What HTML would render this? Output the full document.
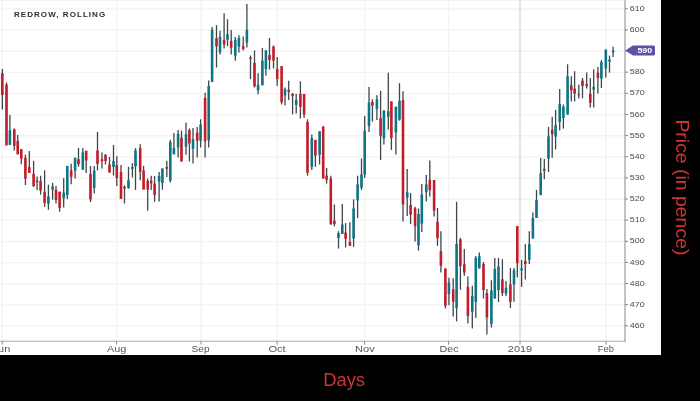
<!DOCTYPE html><html><head><meta charset="utf-8"><style>html,body{margin:0;padding:0;background:#000;width:700px;height:401px;overflow:hidden}svg{display:block;will-change:transform}text{font-family:"Liberation Sans",sans-serif}</style></head><body>
<svg width="700" height="401" viewBox="0 0 700 401">
<rect x="0" y="0" width="700" height="401" fill="#000"/>
<rect x="0" y="0" width="661" height="355" fill="#fff"/>
<line x1="0" y1="0.5" x2="625" y2="0.5" stroke="#f3f3f3" stroke-width="1"/>
<line x1="0" y1="326.00" x2="625" y2="326.00" stroke="#f3f3f3" stroke-width="1.4"/>
<line x1="0" y1="304.86" x2="625" y2="304.86" stroke="#f3f3f3" stroke-width="1.4"/>
<line x1="0" y1="283.73" x2="625" y2="283.73" stroke="#f3f3f3" stroke-width="1.4"/>
<line x1="0" y1="262.60" x2="625" y2="262.60" stroke="#f3f3f3" stroke-width="1.4"/>
<line x1="0" y1="241.46" x2="625" y2="241.46" stroke="#f3f3f3" stroke-width="1.4"/>
<line x1="0" y1="220.33" x2="625" y2="220.33" stroke="#f3f3f3" stroke-width="1.4"/>
<line x1="0" y1="199.20" x2="625" y2="199.20" stroke="#f3f3f3" stroke-width="1.4"/>
<line x1="0" y1="178.06" x2="625" y2="178.06" stroke="#f3f3f3" stroke-width="1.4"/>
<line x1="0" y1="156.93" x2="625" y2="156.93" stroke="#f3f3f3" stroke-width="1.4"/>
<line x1="0" y1="135.80" x2="625" y2="135.80" stroke="#f3f3f3" stroke-width="1.4"/>
<line x1="0" y1="114.67" x2="625" y2="114.67" stroke="#f3f3f3" stroke-width="1.4"/>
<line x1="0" y1="93.53" x2="625" y2="93.53" stroke="#f3f3f3" stroke-width="1.4"/>
<line x1="0" y1="72.40" x2="625" y2="72.40" stroke="#f3f3f3" stroke-width="1.4"/>
<line x1="0" y1="51.27" x2="625" y2="51.27" stroke="#f3f3f3" stroke-width="1.4"/>
<line x1="0" y1="30.13" x2="625" y2="30.13" stroke="#f3f3f3" stroke-width="1.4"/>
<line x1="0" y1="9.00" x2="625" y2="9.00" stroke="#f3f3f3" stroke-width="1.4"/>
<line x1="2.2" y1="0" x2="2.2" y2="341" stroke="#f3f3f3" stroke-width="1.4"/>
<line x1="116.6" y1="0" x2="116.6" y2="341" stroke="#f3f3f3" stroke-width="1.4"/>
<line x1="201.0" y1="0" x2="201.0" y2="341" stroke="#f3f3f3" stroke-width="1.4"/>
<line x1="277.1" y1="0" x2="277.1" y2="341" stroke="#f3f3f3" stroke-width="1.4"/>
<line x1="364.6" y1="0" x2="364.6" y2="341" stroke="#f3f3f3" stroke-width="1.4"/>
<line x1="448.6" y1="0" x2="448.6" y2="341" stroke="#f3f3f3" stroke-width="1.4"/>
<line x1="520.0" y1="0" x2="520.0" y2="341" stroke="#e0e0e0" stroke-width="1.6"/>
<line x1="606.0" y1="0" x2="606.0" y2="341" stroke="#f3f3f3" stroke-width="1.4"/>
<line x1="2.35" y1="68.9" x2="2.35" y2="109.5" stroke="#3f4649" stroke-width="1.3"/>
<rect x="1.05" y="73.1" width="2.6" height="21.90" fill="#c21d2a"/>
<line x1="6.50" y1="82.4" x2="6.50" y2="145.4" stroke="#3f4649" stroke-width="1.3"/>
<rect x="5.20" y="84.6" width="2.6" height="60.80" fill="#c21d2a"/>
<line x1="9.90" y1="114.9" x2="9.90" y2="144.8" stroke="#3f4649" stroke-width="1.3"/>
<rect x="8.60" y="130.2" width="2.6" height="14.60" fill="#0d7585"/>
<line x1="14.30" y1="128.5" x2="14.30" y2="150.4" stroke="#3f4649" stroke-width="1.3"/>
<rect x="13.00" y="129.4" width="2.6" height="16.40" fill="#c21d2a"/>
<line x1="17.70" y1="135.0" x2="17.70" y2="154.3" stroke="#3f4649" stroke-width="1.3"/>
<rect x="16.40" y="140.9" width="2.6" height="13.40" fill="#c21d2a"/>
<line x1="21.30" y1="148.9" x2="21.30" y2="164.3" stroke="#3f4649" stroke-width="1.3"/>
<rect x="20.00" y="149.3" width="2.6" height="9.30" fill="#c21d2a"/>
<line x1="25.40" y1="154.6" x2="25.40" y2="185.0" stroke="#3f4649" stroke-width="1.3"/>
<rect x="24.10" y="157.9" width="2.6" height="20.70" fill="#c21d2a"/>
<line x1="29.30" y1="151.1" x2="29.30" y2="173.0" stroke="#3f4649" stroke-width="1.3"/>
<rect x="28.00" y="167.1" width="2.6" height="5.80" fill="#c21d2a"/>
<line x1="33.60" y1="160.9" x2="33.60" y2="186.9" stroke="#3f4649" stroke-width="1.3"/>
<rect x="32.30" y="173.9" width="2.6" height="12.20" fill="#c21d2a"/>
<line x1="37.10" y1="176.4" x2="37.10" y2="190.0" stroke="#3f4649" stroke-width="1.3"/>
<rect x="35.80" y="180.4" width="2.6" height="1.70" fill="#c21d2a"/>
<line x1="40.60" y1="175.7" x2="40.60" y2="194.7" stroke="#3f4649" stroke-width="1.3"/>
<rect x="39.30" y="181.1" width="2.6" height="9.60" fill="#c21d2a"/>
<line x1="44.60" y1="170.3" x2="44.60" y2="206.9" stroke="#3f4649" stroke-width="1.3"/>
<rect x="43.30" y="191.7" width="2.6" height="11.20" fill="#c21d2a"/>
<line x1="48.40" y1="184.6" x2="48.40" y2="209.7" stroke="#3f4649" stroke-width="1.3"/>
<rect x="47.10" y="196.4" width="2.6" height="7.20" fill="#0d7585"/>
<line x1="52.60" y1="182.9" x2="52.60" y2="199.7" stroke="#3f4649" stroke-width="1.3"/>
<rect x="51.30" y="186.4" width="2.6" height="3.30" fill="#0d7585"/>
<line x1="56.00" y1="186.1" x2="56.00" y2="203.6" stroke="#3f4649" stroke-width="1.3"/>
<rect x="54.70" y="189.7" width="2.6" height="10.30" fill="#c21d2a"/>
<line x1="59.60" y1="191.7" x2="59.60" y2="211.7" stroke="#3f4649" stroke-width="1.3"/>
<rect x="58.30" y="191.7" width="2.6" height="16.20" fill="#c21d2a"/>
<line x1="63.70" y1="178.3" x2="63.70" y2="207.6" stroke="#3f4649" stroke-width="1.3"/>
<rect x="62.40" y="192.6" width="2.6" height="5.70" fill="#0d7585"/>
<line x1="67.30" y1="165.9" x2="67.30" y2="198.9" stroke="#3f4649" stroke-width="1.3"/>
<rect x="66.00" y="165.9" width="2.6" height="29.10" fill="#0d7585"/>
<line x1="71.20" y1="163.7" x2="71.20" y2="184.3" stroke="#3f4649" stroke-width="1.3"/>
<rect x="69.90" y="170.3" width="2.6" height="6.60" fill="#c21d2a"/>
<line x1="75.10" y1="157.8" x2="75.10" y2="178.6" stroke="#3f4649" stroke-width="1.3"/>
<rect x="73.80" y="157.8" width="2.6" height="12.90" fill="#0d7585"/>
<line x1="78.50" y1="148.0" x2="78.50" y2="166.7" stroke="#3f4649" stroke-width="1.3"/>
<rect x="77.20" y="159.2" width="2.6" height="5.00" fill="#c21d2a"/>
<line x1="82.80" y1="148.0" x2="82.80" y2="169.7" stroke="#3f4649" stroke-width="1.3"/>
<rect x="81.50" y="152.5" width="2.6" height="17.20" fill="#0d7585"/>
<line x1="86.20" y1="150.8" x2="86.20" y2="173.0" stroke="#3f4649" stroke-width="1.3"/>
<rect x="84.90" y="150.8" width="2.6" height="9.70" fill="#c21d2a"/>
<line x1="90.50" y1="166.0" x2="90.50" y2="202.1" stroke="#3f4649" stroke-width="1.3"/>
<rect x="89.20" y="174.0" width="2.6" height="25.30" fill="#c21d2a"/>
<line x1="94.20" y1="166.0" x2="94.20" y2="193.6" stroke="#3f4649" stroke-width="1.3"/>
<rect x="92.90" y="170.5" width="2.6" height="17.40" fill="#0d7585"/>
<line x1="97.50" y1="132.0" x2="97.50" y2="170.5" stroke="#3f4649" stroke-width="1.3"/>
<rect x="96.20" y="150.5" width="2.6" height="13.50" fill="#c21d2a"/>
<line x1="102.00" y1="152.5" x2="102.00" y2="168.5" stroke="#3f4649" stroke-width="1.3"/>
<rect x="100.70" y="159.2" width="2.6" height="2.00" fill="#c21d2a"/>
<line x1="105.50" y1="154.0" x2="105.50" y2="164.5" stroke="#3f4649" stroke-width="1.3"/>
<rect x="104.20" y="155.0" width="2.6" height="6.00" fill="#c21d2a"/>
<line x1="109.50" y1="157.0" x2="109.50" y2="172.5" stroke="#3f4649" stroke-width="1.3"/>
<rect x="108.20" y="164.5" width="2.6" height="8.00" fill="#c21d2a"/>
<line x1="113.50" y1="145.0" x2="113.50" y2="175.5" stroke="#3f4649" stroke-width="1.3"/>
<rect x="112.20" y="161.0" width="2.6" height="6.00" fill="#0d7585"/>
<line x1="116.80" y1="156.2" x2="116.80" y2="185.9" stroke="#3f4649" stroke-width="1.3"/>
<rect x="115.50" y="165.1" width="2.6" height="12.90" fill="#c21d2a"/>
<line x1="121.00" y1="165.1" x2="121.00" y2="199.0" stroke="#3f4649" stroke-width="1.3"/>
<rect x="119.70" y="171.9" width="2.6" height="27.10" fill="#c21d2a"/>
<line x1="124.50" y1="185.3" x2="124.50" y2="203.5" stroke="#3f4649" stroke-width="1.3"/>
<rect x="123.20" y="186.8" width="2.6" height="1.70" fill="#c21d2a"/>
<line x1="128.50" y1="166.8" x2="128.50" y2="188.7" stroke="#3f4649" stroke-width="1.3"/>
<rect x="127.20" y="180.3" width="2.6" height="7.80" fill="#0d7585"/>
<line x1="132.40" y1="163.2" x2="132.40" y2="177.5" stroke="#3f4649" stroke-width="1.3"/>
<rect x="131.10" y="167.0" width="2.6" height="1.80" fill="#0d7585"/>
<line x1="135.50" y1="148.1" x2="135.50" y2="190.0" stroke="#3f4649" stroke-width="1.3"/>
<rect x="134.20" y="150.4" width="2.6" height="15.90" fill="#0d7585"/>
<line x1="140.20" y1="144.2" x2="140.20" y2="180.3" stroke="#3f4649" stroke-width="1.3"/>
<rect x="138.90" y="148.1" width="2.6" height="23.80" fill="#c21d2a"/>
<line x1="143.60" y1="165.9" x2="143.60" y2="189.5" stroke="#3f4649" stroke-width="1.3"/>
<rect x="142.30" y="170.5" width="2.6" height="19.00" fill="#c21d2a"/>
<line x1="147.70" y1="178.6" x2="147.70" y2="210.8" stroke="#3f4649" stroke-width="1.3"/>
<rect x="146.40" y="180.8" width="2.6" height="8.70" fill="#c21d2a"/>
<line x1="151.20" y1="175.8" x2="151.20" y2="190.0" stroke="#3f4649" stroke-width="1.3"/>
<rect x="149.90" y="180.5" width="2.6" height="2.90" fill="#c21d2a"/>
<line x1="154.60" y1="176.0" x2="154.60" y2="201.8" stroke="#3f4649" stroke-width="1.3"/>
<rect x="153.30" y="183.6" width="2.6" height="11.30" fill="#c21d2a"/>
<line x1="159.10" y1="171.9" x2="159.10" y2="201.6" stroke="#3f4649" stroke-width="1.3"/>
<rect x="157.80" y="175.8" width="2.6" height="5.80" fill="#0d7585"/>
<line x1="162.40" y1="168.5" x2="162.40" y2="189.7" stroke="#3f4649" stroke-width="1.3"/>
<rect x="161.10" y="168.5" width="2.6" height="14.60" fill="#0d7585"/>
<line x1="166.80" y1="160.7" x2="166.80" y2="176.9" stroke="#3f4649" stroke-width="1.3"/>
<rect x="165.50" y="167.0" width="2.6" height="1.80" fill="#c21d2a"/>
<line x1="170.30" y1="139.7" x2="170.30" y2="182.5" stroke="#3f4649" stroke-width="1.3"/>
<rect x="169.00" y="142.0" width="2.6" height="38.80" fill="#0d7585"/>
<line x1="173.90" y1="133.0" x2="173.90" y2="154.3" stroke="#3f4649" stroke-width="1.3"/>
<rect x="172.60" y="148.0" width="2.6" height="6.30" fill="#0d7585"/>
<line x1="178.10" y1="130.1" x2="178.10" y2="157.6" stroke="#3f4649" stroke-width="1.3"/>
<rect x="176.80" y="134.0" width="2.6" height="13.50" fill="#0d7585"/>
<line x1="181.50" y1="130.7" x2="181.50" y2="161.5" stroke="#3f4649" stroke-width="1.3"/>
<rect x="180.20" y="137.7" width="2.6" height="23.80" fill="#c21d2a"/>
<line x1="186.00" y1="122.5" x2="186.00" y2="154.8" stroke="#3f4649" stroke-width="1.3"/>
<rect x="184.70" y="134.3" width="2.6" height="12.40" fill="#0d7585"/>
<line x1="189.40" y1="128.4" x2="189.40" y2="161.5" stroke="#3f4649" stroke-width="1.3"/>
<rect x="188.10" y="130.1" width="2.6" height="13.40" fill="#c21d2a"/>
<line x1="193.00" y1="128.1" x2="193.00" y2="163.5" stroke="#3f4649" stroke-width="1.3"/>
<rect x="191.70" y="139.1" width="2.6" height="9.80" fill="#0d7585"/>
<line x1="197.20" y1="127.0" x2="197.20" y2="157.6" stroke="#3f4649" stroke-width="1.3"/>
<rect x="195.90" y="132.6" width="2.6" height="8.10" fill="#c21d2a"/>
<line x1="200.60" y1="119.3" x2="200.60" y2="147.5" stroke="#3f4649" stroke-width="1.3"/>
<rect x="199.30" y="124.5" width="2.6" height="16.20" fill="#0d7585"/>
<line x1="205.10" y1="92.7" x2="205.10" y2="157.6" stroke="#3f4649" stroke-width="1.3"/>
<rect x="203.80" y="98.0" width="2.6" height="43.30" fill="#c21d2a"/>
<line x1="208.70" y1="80.6" x2="208.70" y2="147.5" stroke="#3f4649" stroke-width="1.3"/>
<rect x="207.40" y="86.0" width="2.6" height="54.40" fill="#0d7585"/>
<line x1="212.10" y1="27.1" x2="212.10" y2="82.0" stroke="#3f4649" stroke-width="1.3"/>
<rect x="210.80" y="29.7" width="2.6" height="52.30" fill="#0d7585"/>
<line x1="216.50" y1="25.2" x2="216.50" y2="67.5" stroke="#3f4649" stroke-width="1.3"/>
<rect x="215.20" y="38.1" width="2.6" height="8.10" fill="#c21d2a"/>
<line x1="220.00" y1="30.8" x2="220.00" y2="54.6" stroke="#3f4649" stroke-width="1.3"/>
<rect x="218.70" y="36.8" width="2.6" height="15.50" fill="#0d7585"/>
<line x1="224.10" y1="13.2" x2="224.10" y2="48.4" stroke="#3f4649" stroke-width="1.3"/>
<rect x="222.80" y="39.8" width="2.6" height="4.70" fill="#c21d2a"/>
<line x1="227.50" y1="19.3" x2="227.50" y2="46.2" stroke="#3f4649" stroke-width="1.3"/>
<rect x="226.20" y="34.2" width="2.6" height="5.60" fill="#0d7585"/>
<line x1="231.20" y1="30.0" x2="231.20" y2="54.6" stroke="#3f4649" stroke-width="1.3"/>
<rect x="229.90" y="40.9" width="2.6" height="6.90" fill="#c21d2a"/>
<line x1="235.30" y1="37.0" x2="235.30" y2="60.7" stroke="#3f4649" stroke-width="1.3"/>
<rect x="234.00" y="39.8" width="2.6" height="15.90" fill="#0d7585"/>
<line x1="238.90" y1="35.3" x2="238.90" y2="52.6" stroke="#3f4649" stroke-width="1.3"/>
<rect x="237.60" y="37.9" width="2.6" height="8.80" fill="#0d7585"/>
<line x1="243.20" y1="36.4" x2="243.20" y2="50.6" stroke="#3f4649" stroke-width="1.3"/>
<rect x="241.90" y="46.2" width="2.6" height="2.80" fill="#c21d2a"/>
<line x1="246.90" y1="3.9" x2="246.90" y2="47.6" stroke="#3f4649" stroke-width="1.3"/>
<rect x="245.60" y="29.7" width="2.6" height="12.90" fill="#0d7585"/>
<line x1="250.50" y1="55.5" x2="250.50" y2="79.1" stroke="#3f4649" stroke-width="1.3"/>
<rect x="249.20" y="57.4" width="2.6" height="1.40" fill="#c21d2a"/>
<line x1="254.50" y1="50.5" x2="254.50" y2="87.5" stroke="#3f4649" stroke-width="1.3"/>
<rect x="253.20" y="62.8" width="2.6" height="23.60" fill="#c21d2a"/>
<line x1="258.10" y1="73.3" x2="258.10" y2="94.2" stroke="#3f4649" stroke-width="1.3"/>
<rect x="256.80" y="84.7" width="2.6" height="5.60" fill="#0d7585"/>
<line x1="262.40" y1="48.0" x2="262.40" y2="85.3" stroke="#3f4649" stroke-width="1.3"/>
<rect x="261.10" y="60.6" width="2.6" height="24.70" fill="#0d7585"/>
<line x1="265.90" y1="50.0" x2="265.90" y2="75.7" stroke="#3f4649" stroke-width="1.3"/>
<rect x="264.60" y="50.5" width="2.6" height="18.50" fill="#0d7585"/>
<line x1="269.50" y1="38.0" x2="269.50" y2="69.6" stroke="#3f4649" stroke-width="1.3"/>
<rect x="268.20" y="55.0" width="2.6" height="5.00" fill="#c21d2a"/>
<line x1="273.50" y1="45.5" x2="273.50" y2="68.5" stroke="#3f4649" stroke-width="1.3"/>
<rect x="272.20" y="46.5" width="2.6" height="14.10" fill="#c21d2a"/>
<line x1="277.20" y1="57.0" x2="277.20" y2="85.8" stroke="#3f4649" stroke-width="1.3"/>
<rect x="275.90" y="69.0" width="2.6" height="10.10" fill="#c21d2a"/>
<line x1="281.60" y1="66.2" x2="281.60" y2="104.5" stroke="#3f4649" stroke-width="1.3"/>
<rect x="280.30" y="66.2" width="2.6" height="36.10" fill="#c21d2a"/>
<line x1="285.00" y1="87.5" x2="285.00" y2="105.6" stroke="#3f4649" stroke-width="1.3"/>
<rect x="283.70" y="89.2" width="2.6" height="6.30" fill="#0d7585"/>
<line x1="288.70" y1="80.8" x2="288.70" y2="100.0" stroke="#3f4649" stroke-width="1.3"/>
<rect x="287.40" y="89.8" width="2.6" height="2.20" fill="#c21d2a"/>
<line x1="292.60" y1="93.1" x2="292.60" y2="114.3" stroke="#3f4649" stroke-width="1.3"/>
<rect x="291.30" y="93.7" width="2.6" height="2.40" fill="#c21d2a"/>
<line x1="296.20" y1="93.7" x2="296.20" y2="113.5" stroke="#3f4649" stroke-width="1.3"/>
<rect x="294.90" y="100.0" width="2.6" height="4.90" fill="#0d7585"/>
<line x1="300.40" y1="81.3" x2="300.40" y2="118.5" stroke="#3f4649" stroke-width="1.3"/>
<rect x="299.10" y="94.0" width="2.6" height="12.80" fill="#c21d2a"/>
<line x1="304.10" y1="94.0" x2="304.10" y2="118.0" stroke="#3f4649" stroke-width="1.3"/>
<rect x="302.80" y="94.0" width="2.6" height="20.60" fill="#c21d2a"/>
<line x1="307.50" y1="119.3" x2="307.50" y2="175.7" stroke="#3f4649" stroke-width="1.3"/>
<rect x="306.20" y="122.0" width="2.6" height="50.70" fill="#c21d2a"/>
<line x1="311.80" y1="134.6" x2="311.80" y2="170.1" stroke="#3f4649" stroke-width="1.3"/>
<rect x="310.50" y="138.0" width="2.6" height="28.80" fill="#0d7585"/>
<line x1="315.40" y1="139.9" x2="315.40" y2="166.8" stroke="#3f4649" stroke-width="1.3"/>
<rect x="314.10" y="139.9" width="2.6" height="15.70" fill="#c21d2a"/>
<line x1="319.60" y1="131.3" x2="319.60" y2="164.5" stroke="#3f4649" stroke-width="1.3"/>
<rect x="318.30" y="131.3" width="2.6" height="23.50" fill="#0d7585"/>
<line x1="323.20" y1="126.4" x2="323.20" y2="178.5" stroke="#3f4649" stroke-width="1.3"/>
<rect x="321.90" y="126.4" width="2.6" height="52.10" fill="#c21d2a"/>
<line x1="326.60" y1="167.9" x2="326.60" y2="183.6" stroke="#3f4649" stroke-width="1.3"/>
<rect x="325.30" y="175.7" width="2.6" height="4.00" fill="#c21d2a"/>
<line x1="330.80" y1="175.7" x2="330.80" y2="224.4" stroke="#3f4649" stroke-width="1.3"/>
<rect x="329.50" y="178.5" width="2.6" height="45.90" fill="#c21d2a"/>
<line x1="334.40" y1="204.5" x2="334.40" y2="226.2" stroke="#3f4649" stroke-width="1.3"/>
<rect x="333.10" y="220.8" width="2.6" height="3.30" fill="#c21d2a"/>
<line x1="338.50" y1="231.2" x2="338.50" y2="248.6" stroke="#3f4649" stroke-width="1.3"/>
<rect x="337.20" y="233.2" width="2.6" height="4.70" fill="#0d7585"/>
<line x1="342.30" y1="204.0" x2="342.30" y2="234.0" stroke="#3f4649" stroke-width="1.3"/>
<rect x="341.00" y="224.5" width="2.6" height="9.50" fill="#0d7585"/>
<line x1="345.60" y1="223.1" x2="345.60" y2="247.5" stroke="#3f4649" stroke-width="1.3"/>
<rect x="344.30" y="232.6" width="2.6" height="6.20" fill="#c21d2a"/>
<line x1="349.90" y1="222.3" x2="349.90" y2="245.8" stroke="#3f4649" stroke-width="1.3"/>
<rect x="348.60" y="241.9" width="2.6" height="3.90" fill="#c21d2a"/>
<line x1="353.60" y1="199.3" x2="353.60" y2="246.9" stroke="#3f4649" stroke-width="1.3"/>
<rect x="352.30" y="208.5" width="2.6" height="30.00" fill="#0d7585"/>
<line x1="357.60" y1="175.7" x2="357.60" y2="218.1" stroke="#3f4649" stroke-width="1.3"/>
<rect x="356.30" y="184.5" width="2.6" height="16.00" fill="#0d7585"/>
<line x1="361.50" y1="158.5" x2="361.50" y2="189.9" stroke="#3f4649" stroke-width="1.3"/>
<rect x="360.20" y="174.4" width="2.6" height="13.20" fill="#0d7585"/>
<line x1="364.70" y1="116.0" x2="364.70" y2="178.1" stroke="#3f4649" stroke-width="1.3"/>
<rect x="363.40" y="130.8" width="2.6" height="43.90" fill="#0d7585"/>
<line x1="369.00" y1="86.9" x2="369.00" y2="131.9" stroke="#3f4649" stroke-width="1.3"/>
<rect x="367.70" y="102.6" width="2.6" height="23.50" fill="#0d7585"/>
<line x1="372.40" y1="99.2" x2="372.40" y2="121.6" stroke="#3f4649" stroke-width="1.3"/>
<rect x="371.10" y="102.0" width="2.6" height="3.60" fill="#c21d2a"/>
<line x1="376.90" y1="95.3" x2="376.90" y2="120.1" stroke="#3f4649" stroke-width="1.3"/>
<rect x="375.60" y="99.2" width="2.6" height="9.70" fill="#0d7585"/>
<line x1="380.60" y1="90.8" x2="380.60" y2="160.1" stroke="#3f4649" stroke-width="1.3"/>
<rect x="379.30" y="118.2" width="2.6" height="17.60" fill="#c21d2a"/>
<line x1="383.90" y1="110.0" x2="383.90" y2="144.5" stroke="#3f4649" stroke-width="1.3"/>
<rect x="382.60" y="110.8" width="2.6" height="27.60" fill="#0d7585"/>
<line x1="388.30" y1="72.8" x2="388.30" y2="129.4" stroke="#3f4649" stroke-width="1.3"/>
<rect x="387.00" y="111.2" width="2.6" height="5.60" fill="#0d7585"/>
<line x1="391.40" y1="101.4" x2="391.40" y2="150.0" stroke="#3f4649" stroke-width="1.3"/>
<rect x="390.10" y="101.4" width="2.6" height="36.70" fill="#c21d2a"/>
<line x1="395.90" y1="106.3" x2="395.90" y2="154.5" stroke="#3f4649" stroke-width="1.3"/>
<rect x="394.60" y="107.0" width="2.6" height="25.50" fill="#0d7585"/>
<line x1="399.50" y1="83.2" x2="399.50" y2="120.7" stroke="#3f4649" stroke-width="1.3"/>
<rect x="398.20" y="100.9" width="2.6" height="18.70" fill="#0d7585"/>
<line x1="403.00" y1="91.3" x2="403.00" y2="221.5" stroke="#3f4649" stroke-width="1.3"/>
<rect x="401.70" y="100.0" width="2.6" height="104.40" fill="#c21d2a"/>
<line x1="407.20" y1="168.9" x2="407.20" y2="216.0" stroke="#3f4649" stroke-width="1.3"/>
<rect x="405.90" y="192.2" width="2.6" height="5.50" fill="#0d7585"/>
<line x1="410.60" y1="193.1" x2="410.60" y2="224.0" stroke="#3f4649" stroke-width="1.3"/>
<rect x="409.30" y="205.0" width="2.6" height="9.60" fill="#c21d2a"/>
<line x1="415.10" y1="206.7" x2="415.10" y2="241.4" stroke="#3f4649" stroke-width="1.3"/>
<rect x="413.80" y="208.3" width="2.6" height="18.00" fill="#c21d2a"/>
<line x1="418.50" y1="208.5" x2="418.50" y2="250.6" stroke="#3f4649" stroke-width="1.3"/>
<rect x="417.20" y="214.0" width="2.6" height="31.30" fill="#0d7585"/>
<line x1="421.80" y1="184.1" x2="421.80" y2="231.9" stroke="#3f4649" stroke-width="1.3"/>
<rect x="420.50" y="194.4" width="2.6" height="29.10" fill="#0d7585"/>
<line x1="426.30" y1="175.1" x2="426.30" y2="201.4" stroke="#3f4649" stroke-width="1.3"/>
<rect x="425.00" y="184.3" width="2.6" height="7.90" fill="#0d7585"/>
<line x1="429.80" y1="160.5" x2="429.80" y2="196.6" stroke="#3f4649" stroke-width="1.3"/>
<rect x="428.50" y="179.8" width="2.6" height="10.40" fill="#c21d2a"/>
<line x1="434.10" y1="180.1" x2="434.10" y2="216.4" stroke="#3f4649" stroke-width="1.3"/>
<rect x="432.80" y="180.1" width="2.6" height="30.50" fill="#c21d2a"/>
<line x1="437.50" y1="207.9" x2="437.50" y2="245.9" stroke="#3f4649" stroke-width="1.3"/>
<rect x="436.20" y="221.8" width="2.6" height="16.30" fill="#c21d2a"/>
<line x1="440.90" y1="231.3" x2="440.90" y2="272.5" stroke="#3f4649" stroke-width="1.3"/>
<rect x="439.60" y="251.2" width="2.6" height="14.50" fill="#c21d2a"/>
<line x1="445.40" y1="268.5" x2="445.40" y2="308.5" stroke="#3f4649" stroke-width="1.3"/>
<rect x="444.10" y="268.5" width="2.6" height="37.20" fill="#c21d2a"/>
<line x1="448.90" y1="277.7" x2="448.90" y2="305.2" stroke="#3f4649" stroke-width="1.3"/>
<rect x="447.60" y="282.6" width="2.6" height="11.40" fill="#0d7585"/>
<line x1="453.20" y1="278.3" x2="453.20" y2="316.4" stroke="#3f4649" stroke-width="1.3"/>
<rect x="451.90" y="289.3" width="2.6" height="12.50" fill="#c21d2a"/>
<line x1="456.60" y1="201.8" x2="456.60" y2="321.4" stroke="#3f4649" stroke-width="1.3"/>
<rect x="455.30" y="244.0" width="2.6" height="64.00" fill="#0d7585"/>
<line x1="460.40" y1="237.9" x2="460.40" y2="289.7" stroke="#3f4649" stroke-width="1.3"/>
<rect x="459.10" y="239.3" width="2.6" height="26.90" fill="#c21d2a"/>
<line x1="464.30" y1="249.1" x2="464.30" y2="275.7" stroke="#3f4649" stroke-width="1.3"/>
<rect x="463.00" y="264.3" width="2.6" height="8.30" fill="#c21d2a"/>
<line x1="467.90" y1="276.6" x2="467.90" y2="323.6" stroke="#3f4649" stroke-width="1.3"/>
<rect x="466.60" y="286.7" width="2.6" height="29.40" fill="#c21d2a"/>
<line x1="472.30" y1="285.8" x2="472.30" y2="328.6" stroke="#3f4649" stroke-width="1.3"/>
<rect x="471.00" y="296.1" width="2.6" height="15.70" fill="#0d7585"/>
<line x1="475.80" y1="255.9" x2="475.80" y2="318.0" stroke="#3f4649" stroke-width="1.3"/>
<rect x="474.50" y="257.9" width="2.6" height="44.10" fill="#0d7585"/>
<line x1="479.30" y1="252.5" x2="479.30" y2="268.4" stroke="#3f4649" stroke-width="1.3"/>
<rect x="478.00" y="256.1" width="2.6" height="12.30" fill="#0d7585"/>
<line x1="483.50" y1="262.0" x2="483.50" y2="298.5" stroke="#3f4649" stroke-width="1.3"/>
<rect x="482.20" y="264.0" width="2.6" height="26.00" fill="#c21d2a"/>
<line x1="486.90" y1="289.1" x2="486.90" y2="334.5" stroke="#3f4649" stroke-width="1.3"/>
<rect x="485.60" y="293.1" width="2.6" height="24.30" fill="#c21d2a"/>
<line x1="491.40" y1="280.2" x2="491.40" y2="327.5" stroke="#3f4649" stroke-width="1.3"/>
<rect x="490.10" y="290.5" width="2.6" height="33.40" fill="#0d7585"/>
<line x1="494.80" y1="257.9" x2="494.80" y2="298.5" stroke="#3f4649" stroke-width="1.3"/>
<rect x="493.50" y="269.0" width="2.6" height="29.50" fill="#0d7585"/>
<line x1="498.50" y1="257.9" x2="498.50" y2="302.0" stroke="#3f4649" stroke-width="1.3"/>
<rect x="497.20" y="266.5" width="2.6" height="23.50" fill="#0d7585"/>
<line x1="502.40" y1="259.2" x2="502.40" y2="296.0" stroke="#3f4649" stroke-width="1.3"/>
<rect x="501.10" y="279.3" width="2.6" height="13.80" fill="#c21d2a"/>
<line x1="506.00" y1="281.1" x2="506.00" y2="296.1" stroke="#3f4649" stroke-width="1.3"/>
<rect x="504.70" y="287.8" width="2.6" height="5.80" fill="#0d7585"/>
<line x1="510.40" y1="268.1" x2="510.40" y2="307.9" stroke="#3f4649" stroke-width="1.3"/>
<rect x="509.10" y="284.4" width="2.6" height="17.30" fill="#c21d2a"/>
<line x1="514.00" y1="268.1" x2="514.00" y2="301.7" stroke="#3f4649" stroke-width="1.3"/>
<rect x="512.70" y="270.1" width="2.6" height="14.30" fill="#0d7585"/>
<line x1="517.30" y1="226.0" x2="517.30" y2="277.4" stroke="#3f4649" stroke-width="1.3"/>
<rect x="516.00" y="226.2" width="2.6" height="37.00" fill="#c21d2a"/>
<line x1="521.60" y1="259.8" x2="521.60" y2="286.9" stroke="#3f4649" stroke-width="1.3"/>
<rect x="520.30" y="268.4" width="2.6" height="1.90" fill="#0d7585"/>
<line x1="525.30" y1="244.1" x2="525.30" y2="279.6" stroke="#3f4649" stroke-width="1.3"/>
<rect x="524.00" y="261.0" width="2.6" height="3.00" fill="#c21d2a"/>
<line x1="529.30" y1="231.2" x2="529.30" y2="263.9" stroke="#3f4649" stroke-width="1.3"/>
<rect x="528.00" y="244.1" width="2.6" height="15.70" fill="#0d7585"/>
<line x1="532.90" y1="212.5" x2="532.90" y2="238.5" stroke="#3f4649" stroke-width="1.3"/>
<rect x="531.60" y="218.1" width="2.6" height="20.40" fill="#0d7585"/>
<line x1="536.50" y1="189.9" x2="536.50" y2="218.0" stroke="#3f4649" stroke-width="1.3"/>
<rect x="535.20" y="200.0" width="2.6" height="17.90" fill="#0d7585"/>
<line x1="540.70" y1="157.9" x2="540.70" y2="195.1" stroke="#3f4649" stroke-width="1.3"/>
<rect x="539.40" y="173.1" width="2.6" height="22.00" fill="#0d7585"/>
<line x1="544.30" y1="159.1" x2="544.30" y2="179.2" stroke="#3f4649" stroke-width="1.3"/>
<rect x="543.00" y="168.9" width="2.6" height="1.90" fill="#c21d2a"/>
<line x1="548.50" y1="126.9" x2="548.50" y2="172.0" stroke="#3f4649" stroke-width="1.3"/>
<rect x="547.20" y="136.4" width="2.6" height="22.10" fill="#0d7585"/>
<line x1="552.20" y1="116.8" x2="552.20" y2="157.7" stroke="#3f4649" stroke-width="1.3"/>
<rect x="550.90" y="129.7" width="2.6" height="4.50" fill="#c21d2a"/>
<line x1="555.60" y1="109.9" x2="555.60" y2="149.5" stroke="#3f4649" stroke-width="1.3"/>
<rect x="554.30" y="125.2" width="2.6" height="11.40" fill="#0d7585"/>
<line x1="559.70" y1="88.9" x2="559.70" y2="130.6" stroke="#3f4649" stroke-width="1.3"/>
<rect x="558.40" y="104.0" width="2.6" height="18.00" fill="#0d7585"/>
<line x1="563.40" y1="104.5" x2="563.40" y2="128.6" stroke="#3f4649" stroke-width="1.3"/>
<rect x="562.10" y="106.7" width="2.6" height="11.30" fill="#0d7585"/>
<line x1="567.60" y1="64.3" x2="567.60" y2="114.6" stroke="#3f4649" stroke-width="1.3"/>
<rect x="566.30" y="76.3" width="2.6" height="38.30" fill="#0d7585"/>
<line x1="571.30" y1="76.3" x2="571.30" y2="101.4" stroke="#3f4649" stroke-width="1.3"/>
<rect x="570.00" y="85.2" width="2.6" height="5.10" fill="#c21d2a"/>
<line x1="574.60" y1="71.2" x2="574.60" y2="101.5" stroke="#3f4649" stroke-width="1.3"/>
<rect x="573.30" y="88.6" width="2.6" height="5.00" fill="#c21d2a"/>
<line x1="578.80" y1="84.7" x2="578.80" y2="98.5" stroke="#3f4649" stroke-width="1.3"/>
<rect x="577.50" y="94.2" width="2.6" height="1.10" fill="#555"/>
<line x1="582.50" y1="77.9" x2="582.50" y2="98.3" stroke="#3f4649" stroke-width="1.3"/>
<rect x="581.20" y="80.7" width="2.6" height="5.30" fill="#c21d2a"/>
<line x1="586.70" y1="72.6" x2="586.70" y2="88.6" stroke="#3f4649" stroke-width="1.3"/>
<rect x="585.40" y="84.1" width="2.6" height="1.90" fill="#c21d2a"/>
<line x1="590.30" y1="77.9" x2="590.30" y2="107.6" stroke="#3f4649" stroke-width="1.3"/>
<rect x="589.00" y="93.9" width="2.6" height="8.90" fill="#c21d2a"/>
<line x1="593.70" y1="69.3" x2="593.70" y2="107.6" stroke="#3f4649" stroke-width="1.3"/>
<rect x="592.40" y="86.9" width="2.6" height="2.80" fill="#0d7585"/>
<line x1="597.90" y1="67.1" x2="597.90" y2="93.6" stroke="#3f4649" stroke-width="1.3"/>
<rect x="596.60" y="72.7" width="2.6" height="5.20" fill="#c21d2a"/>
<line x1="601.40" y1="60.0" x2="601.40" y2="88.0" stroke="#3f4649" stroke-width="1.3"/>
<rect x="600.10" y="62.0" width="2.6" height="16.50" fill="#0d7585"/>
<line x1="605.80" y1="49.6" x2="605.80" y2="77.4" stroke="#3f4649" stroke-width="1.3"/>
<rect x="604.50" y="49.6" width="2.6" height="19.00" fill="#0d7585"/>
<line x1="609.50" y1="55.6" x2="609.50" y2="72.6" stroke="#3f4649" stroke-width="1.3"/>
<rect x="608.20" y="59.7" width="2.6" height="1.90" fill="#0d7585"/>
<line x1="613.10" y1="46.8" x2="613.10" y2="56.9" stroke="#3f4649" stroke-width="1.3"/>
<rect x="611.80" y="50.5" width="2.6" height="1.70" fill="#0d7585"/>
<line x1="625" y1="0" x2="625" y2="341.8" stroke="#bdbdbd" stroke-width="1.8"/>
<line x1="0" y1="341.3" x2="626" y2="341.3" stroke="#a9a9a9" stroke-width="1.1"/>
<line x1="625" y1="325.80" x2="628" y2="325.80" stroke="#777" stroke-width="0.9"/>
<text x="629.8" y="327.90" font-size="7.1" fill="#4a4a4a" textLength="14.8" lengthAdjust="spacingAndGlyphs">460</text>
<line x1="625" y1="304.66" x2="628" y2="304.66" stroke="#777" stroke-width="0.9"/>
<text x="629.8" y="306.76" font-size="7.1" fill="#4a4a4a" textLength="14.8" lengthAdjust="spacingAndGlyphs">470</text>
<line x1="625" y1="283.53" x2="628" y2="283.53" stroke="#777" stroke-width="0.9"/>
<text x="629.8" y="285.63" font-size="7.1" fill="#4a4a4a" textLength="14.8" lengthAdjust="spacingAndGlyphs">480</text>
<line x1="625" y1="262.40" x2="628" y2="262.40" stroke="#777" stroke-width="0.9"/>
<text x="629.8" y="264.50" font-size="7.1" fill="#4a4a4a" textLength="14.8" lengthAdjust="spacingAndGlyphs">490</text>
<line x1="625" y1="241.26" x2="628" y2="241.26" stroke="#777" stroke-width="0.9"/>
<text x="629.8" y="243.36" font-size="7.1" fill="#4a4a4a" textLength="14.8" lengthAdjust="spacingAndGlyphs">500</text>
<line x1="625" y1="220.13" x2="628" y2="220.13" stroke="#777" stroke-width="0.9"/>
<text x="629.8" y="222.23" font-size="7.1" fill="#4a4a4a" textLength="14.8" lengthAdjust="spacingAndGlyphs">510</text>
<line x1="625" y1="199.00" x2="628" y2="199.00" stroke="#777" stroke-width="0.9"/>
<text x="629.8" y="201.10" font-size="7.1" fill="#4a4a4a" textLength="14.8" lengthAdjust="spacingAndGlyphs">520</text>
<line x1="625" y1="177.86" x2="628" y2="177.86" stroke="#777" stroke-width="0.9"/>
<text x="629.8" y="179.96" font-size="7.1" fill="#4a4a4a" textLength="14.8" lengthAdjust="spacingAndGlyphs">530</text>
<line x1="625" y1="156.73" x2="628" y2="156.73" stroke="#777" stroke-width="0.9"/>
<text x="629.8" y="158.83" font-size="7.1" fill="#4a4a4a" textLength="14.8" lengthAdjust="spacingAndGlyphs">540</text>
<line x1="625" y1="135.60" x2="628" y2="135.60" stroke="#777" stroke-width="0.9"/>
<text x="629.8" y="137.70" font-size="7.1" fill="#4a4a4a" textLength="14.8" lengthAdjust="spacingAndGlyphs">550</text>
<line x1="625" y1="114.47" x2="628" y2="114.47" stroke="#777" stroke-width="0.9"/>
<text x="629.8" y="116.56" font-size="7.1" fill="#4a4a4a" textLength="14.8" lengthAdjust="spacingAndGlyphs">560</text>
<line x1="625" y1="93.33" x2="628" y2="93.33" stroke="#777" stroke-width="0.9"/>
<text x="629.8" y="95.43" font-size="7.1" fill="#4a4a4a" textLength="14.8" lengthAdjust="spacingAndGlyphs">570</text>
<line x1="625" y1="72.20" x2="628" y2="72.20" stroke="#777" stroke-width="0.9"/>
<text x="629.8" y="74.30" font-size="7.1" fill="#4a4a4a" textLength="14.8" lengthAdjust="spacingAndGlyphs">580</text>
<line x1="625" y1="51.07" x2="628" y2="51.07" stroke="#777" stroke-width="0.9"/>
<text x="629.8" y="53.17" font-size="7.1" fill="#4a4a4a" textLength="14.8" lengthAdjust="spacingAndGlyphs">590</text>
<line x1="625" y1="29.93" x2="628" y2="29.93" stroke="#777" stroke-width="0.9"/>
<text x="629.8" y="32.03" font-size="7.1" fill="#4a4a4a" textLength="14.8" lengthAdjust="spacingAndGlyphs">600</text>
<line x1="625" y1="8.80" x2="628" y2="8.80" stroke="#777" stroke-width="0.9"/>
<text x="629.8" y="10.90" font-size="7.1" fill="#4a4a4a" textLength="14.8" lengthAdjust="spacingAndGlyphs">610</text>
<line x1="2.2" y1="341.5" x2="2.2" y2="344.5" stroke="#777" stroke-width="0.9"/>
<text x="-7.4" y="351.8" font-size="9" fill="#555" textLength="17.6" lengthAdjust="spacingAndGlyphs">Jun</text>
<line x1="116.6" y1="341.5" x2="116.6" y2="344.5" stroke="#777" stroke-width="0.9"/>
<text x="107.0" y="351.8" font-size="9" fill="#555" textLength="19.3" lengthAdjust="spacingAndGlyphs">Aug</text>
<line x1="201.0" y1="341.5" x2="201.0" y2="344.5" stroke="#777" stroke-width="0.9"/>
<text x="191.6" y="351.8" font-size="9" fill="#555" textLength="18.0" lengthAdjust="spacingAndGlyphs">Sep</text>
<line x1="277.1" y1="341.5" x2="277.1" y2="344.5" stroke="#777" stroke-width="0.9"/>
<text x="268.4" y="351.8" font-size="9" fill="#555" textLength="17.3" lengthAdjust="spacingAndGlyphs">Oct</text>
<line x1="364.6" y1="341.5" x2="364.6" y2="344.5" stroke="#777" stroke-width="0.9"/>
<text x="355.0" y="351.8" font-size="9" fill="#555" textLength="19.7" lengthAdjust="spacingAndGlyphs">Nov</text>
<line x1="448.6" y1="341.5" x2="448.6" y2="344.5" stroke="#777" stroke-width="0.9"/>
<text x="439.6" y="351.8" font-size="9" fill="#555" textLength="19.0" lengthAdjust="spacingAndGlyphs">Dec</text>
<line x1="520.0" y1="341.5" x2="520.0" y2="344.5" stroke="#777" stroke-width="0.9"/>
<text x="507.8" y="351.8" font-size="9" fill="#555" textLength="24.4" lengthAdjust="spacingAndGlyphs">2019</text>
<line x1="606.0" y1="341.5" x2="606.0" y2="344.5" stroke="#777" stroke-width="0.9"/>
<text x="597.8" y="351.8" font-size="9" fill="#555" textLength="16.2" lengthAdjust="spacingAndGlyphs">Feb</text>
<text x="14.0" y="17.4" font-size="8" font-weight="bold" fill="#2e2e2e" letter-spacing="1.05">REDROW, ROLLING</text>
<path d="M625.4 50.6 L632.9 45.4 L653.5 45.4 Q655 45.4 655 46.9 L655 54 Q655 55.5 653.5 55.5 L632.9 55.5 Z" fill="#5a52a8"/>
<text x="637.4" y="53.1" font-size="6.6" font-weight="bold" fill="#fff" textLength="14.8" lengthAdjust="spacingAndGlyphs">590</text>
<text x="323.2" y="385.7" font-size="18.3" fill="#cf3434" textLength="41.8" lengthAdjust="spacingAndGlyphs">Days</text>
<text transform="translate(676.4,119.4) rotate(90)" font-size="19.2" fill="#cf3434" textLength="136" lengthAdjust="spacingAndGlyphs">Price (in pence)</text>
</svg></body></html>
